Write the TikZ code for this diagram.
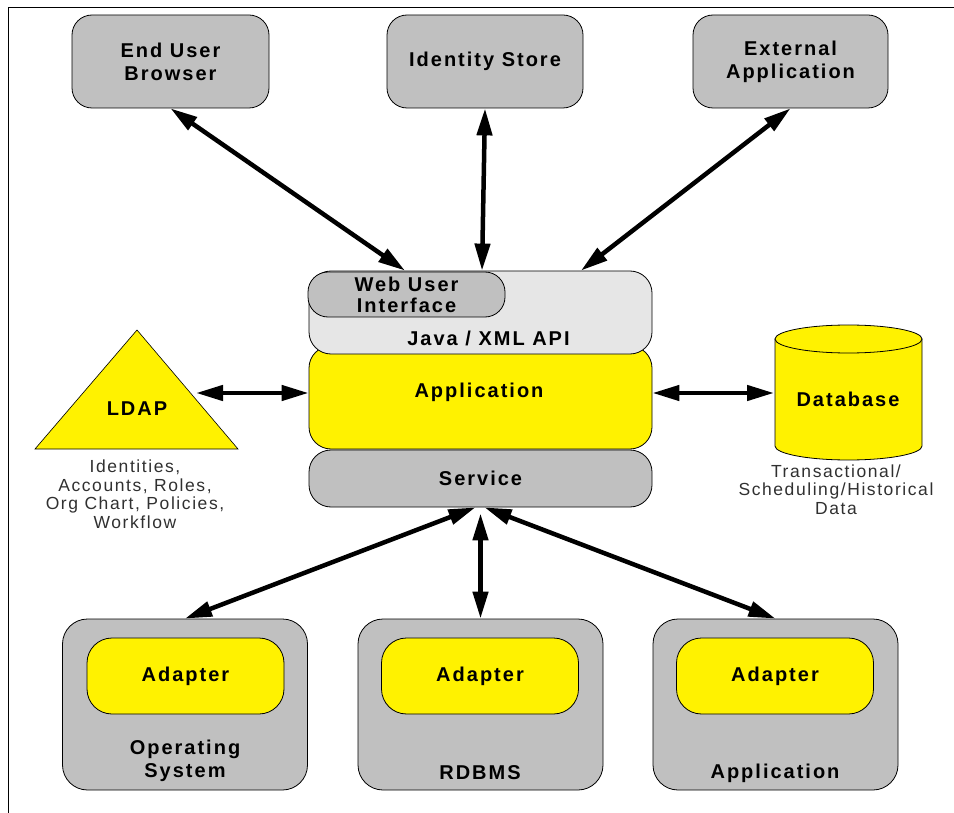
\documentclass[tikz,border=0pt]{standalone}
\usepackage{fontspec}
\setmainfont{Liberation Sans}
\newfontfamily\boxfont[LetterSpace=10]{Liberation Sans}
\newfontfamily\notefont[LetterSpace=9]{Liberation Sans}
\usetikzlibrary{arrows.meta,positioning,calc}

\definecolor{boxgray}{HTML}{C0C0C0}
\definecolor{apigray}{HTML}{E6E6E6}
\definecolor{notegray}{HTML}{303030}

\begin{document}
\begin{tikzpicture}[x=1pt,y=-1pt,
  label font/.style={font=\boxfont\bfseries\fontsize{20}{23}\selectfont},
  box/.style={draw,line width=0.8pt,rounded corners=20pt,fill=boxgray,align=center,inner sep=0pt,label font},
  ybox/.style={box,fill=yellow},
  note/.style={align=center,text=notegray,inner sep=0pt,font=\notefont\fontsize{17.5}{18.5}\selectfont},
  link/.style={{Triangle[length=27pt,width=15pt]}-{Triangle[length=27pt,width=15pt]},line width=4.5pt}]
  \useasboundingbox (0,0) rectangle (954,813);
  \draw[line width=0.8pt] (8,813) -- (8,7) -- (954,7);

  % top row
  \node[box,minimum width=197pt,minimum height=93pt] (browser) at (170.5,61.5) {End User\\Browser};
  \node[box,minimum width=196pt,minimum height=93pt] (store) at (485,61.5) {Identity Store};
  \node[box,minimum width=195pt,minimum height=93pt] (external) at (790.5,61.5) {External\\Application};

  % middle stack
  \node[ybox,minimum width=343pt,minimum height=103pt,rounded corners=22pt] (app) at (480.5,397.5) {};
  \node[label font] (apptitle) at (479,392) {Application};
  \node[box,fill=apigray,minimum width=343pt,minimum height=83pt,rounded corners=22pt] (api) at (480.5,312.5) {};
  \node[label font] (apitext) at ($(api.south)+(8,-16)$) {Java / XML API};
  \node[box,minimum width=197pt,minimum height=45pt,font=\boxfont\bfseries\fontsize{20}{21}\selectfont] (webui) at (406.5,294.5) {Web User\\Interface};
  \node[box,minimum width=343pt,minimum height=57pt,rounded corners=22pt] (service) at (480.5,478.5) {Service};

  % LDAP
  \draw[line width=0.6pt,fill=yellow] (137,330) -- (238,449) -- (35,449) -- cycle;
  \node[label font] (ldap) at (137,409) {LDAP};
  \coordinate (ldapright) at (196,393);
  \node[note] (ldapnote) at (135,494) {Identities,\\Accounts, Roles,\\Org Chart, Policies,\\Workflow};

  % database
  \draw[line width=0.8pt,fill=yellow] (775,339) -- (775,446) arc[start angle=180,end angle=0,x radius=73.5,y radius=14] -- (922,339) -- cycle;
  \draw[line width=0.8pt,fill=yellow] (848.5,339) ellipse[x radius=73.5,y radius=14];
  \node[label font] (db) at (848,399) {Database};
  \coordinate (dbleft) at (774,393);
  \node[note] (dbnote) at (836,489.5) {Transactional/\\Scheduling/Historical\\Data};

  % bottom row
  \node[box,minimum width=245pt,minimum height=171pt,rounded corners=25pt] (os) at (185,704.5) {};
  \node[ybox,minimum width=197pt,minimum height=76pt,rounded corners=25pt] (osadapter) at (185.5,676) {Adapter};
  \node[label font,align=center] (ostext) at (185,761) {Operating\\System};
  \node[box,minimum width=245pt,minimum height=171pt,rounded corners=25pt] (rdbms) at (480.5,704.5) {};
  \node[ybox,minimum width=197pt,minimum height=76pt,rounded corners=25pt] (rdbmsadapter) at (480,676) {Adapter};
  \node[label font] (rdbmstext) at (480,773) {RDBMS};
  \node[box,minimum width=245pt,minimum height=171pt,rounded corners=25pt] (appbox) at (775.5,704.5) {};
  \node[ybox,minimum width=197pt,minimum height=76pt,rounded corners=25pt] (appadapter) at (775,676) {Adapter};
  \node[label font] (apptext) at (775,773) {Application};

  % connectors
  \path[link] (browser.south) edge ([xshift=-75.5pt]api.north);
  \path[link] (store.south) edge ([xshift=1.5pt]api.north);
  \path[link] (external.south) edge ([xshift=100.5pt]api.north);
  \path[link] (ldapright) edge ([yshift=4.5pt]app.west);
  \path[link] ([yshift=4.5pt]app.east) edge (dbleft);
  \path[link] ([xshift=-5pt]service.south) edge (os.north);
  \path[link] ([yshift=-6pt]service.south) edge (rdbms.north);
  \path[link] ([xshift=4pt]service.south) edge (appbox.north);
\end{tikzpicture}
\end{document}
